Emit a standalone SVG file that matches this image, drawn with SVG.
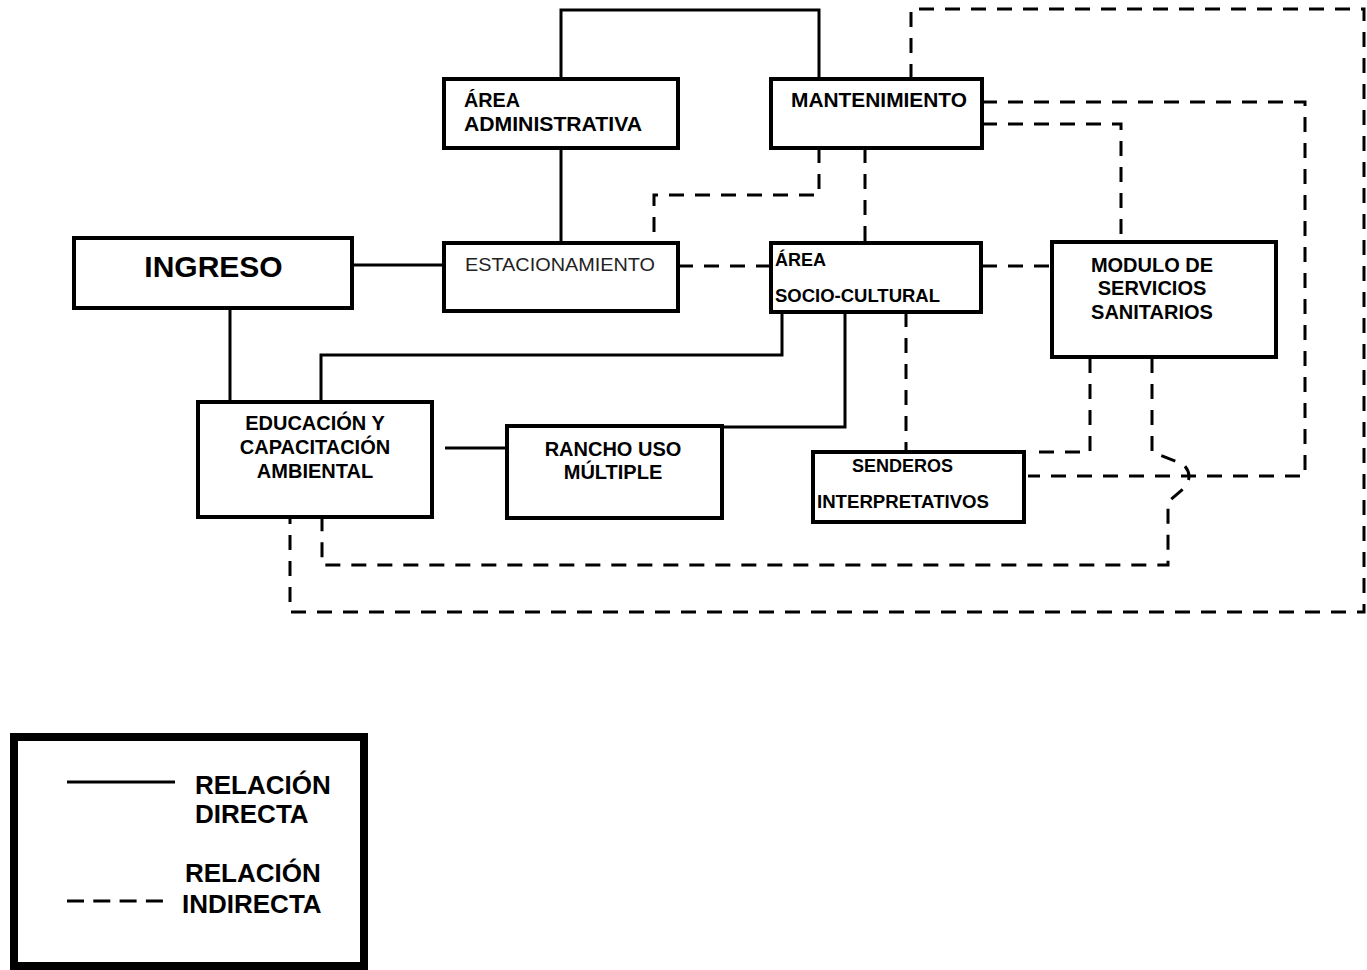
<svg xmlns="http://www.w3.org/2000/svg" width="1367" height="970" viewBox="0 0 1367 970">
<style>
.box{fill:#fff;stroke:#000;stroke-width:4}
.t{font-family:"Liberation Sans",Arial,sans-serif;font-weight:bold;fill:#000}
.s{fill:none;stroke:#000;stroke-width:3}
.d{fill:none;stroke:#000;stroke-width:3;stroke-dasharray:15 11}
</style>
<rect width="1367" height="970" fill="#fff"/>
<g id="connectors">
<path class="s" d="M561,79 V10 H819 V79"/>
<path class="s" d="M561,148 V242"/>
<path class="s" d="M353,265 H444"/>
<path class="s" d="M230,309 V402"/>
<path class="s" d="M782,312 V355 H321 V402"/>
<path class="s" d="M845,312 V427 H722"/>
<path class="s" d="M445,448 H507"/>
<path class="d" d="M911,79 V9 H1364 V612 H290 V518"/>
<path class="d" d="M982,102 H1305 V476 H1028"/>
<path class="d" d="M1152,358 V452 L1183,464 Q1195,476 1183,489 L1168,502 V565 H322 V518"/>
<path class="d" d="M982,124 H1121 V242"/>
<path class="d" d="M865,148 V242"/>
<path class="d" d="M819,148 V195 H654 V242"/>
<path class="d" d="M678,266 H771"/>
<path class="d" d="M982,266 H1052"/>
<path class="d" d="M906,312 V452"/>
<path class="d" d="M1090,358 V452 H1028"/>
</g>
<g id="admin">
<rect class="box" x="444" y="79" width="234" height="69"/>
<text class="t" x="464" y="107" font-size="20" textLength="56" lengthAdjust="spacingAndGlyphs">ÁREA</text>
<text class="t" x="464" y="131" font-size="20" textLength="178" lengthAdjust="spacingAndGlyphs">ADMINISTRATIVA</text>
</g>
<g id="mantenimiento">
<rect class="box" x="771" y="79" width="211" height="69"/>
<text class="t" x="791" y="107" font-size="20" textLength="176" lengthAdjust="spacingAndGlyphs">MANTENIMIENTO</text>
</g>
<g id="ingreso">
<rect class="box" x="74" y="238" width="278" height="70"/>
<text class="t" x="213.5" y="277" font-size="30" text-anchor="middle">INGRESO</text>
</g>
<g id="estacionamiento">
<rect class="box" x="444" y="243" width="234" height="68"/>
<text x="465" y="271" font-size="18" font-family="'Liberation Sans',Arial,sans-serif" fill="#222" textLength="190" lengthAdjust="spacingAndGlyphs">ESTACIONAMIENTO</text>
</g>
<g id="socio">
<rect class="box" x="771" y="243" width="210" height="69"/>
<text class="t" x="775" y="266" font-size="18">ÁREA</text>
<text class="t" x="775" y="302" font-size="18" textLength="165" lengthAdjust="spacingAndGlyphs">SOCIO-CULTURAL</text>
</g>
<g id="modulo">
<rect class="box" x="1052" y="242" width="224" height="115"/>
<text class="t" x="1152" y="272" font-size="20" text-anchor="middle">MODULO DE</text>
<text class="t" x="1152" y="295" font-size="20" text-anchor="middle">SERVICIOS</text>
<text class="t" x="1152" y="319" font-size="20" text-anchor="middle">SANITARIOS</text>
</g>
<g id="educacion">
<rect class="box" x="198" y="402" width="234" height="115"/>
<text class="t" x="315" y="430" font-size="20" text-anchor="middle">EDUCACIÓN Y</text>
<text class="t" x="315" y="454" font-size="20" text-anchor="middle">CAPACITACIÓN</text>
<text class="t" x="315" y="478" font-size="20" text-anchor="middle">AMBIENTAL</text>
</g>
<g id="rancho">
<rect class="box" x="507" y="426" width="215" height="92"/>
<text class="t" x="613" y="456" font-size="20" text-anchor="middle">RANCHO USO</text>
<text class="t" x="613" y="479" font-size="20" text-anchor="middle">MÚLTIPLE</text>
</g>
<g id="senderos">
<rect class="box" x="813" y="452" width="211" height="70"/>
<text class="t" x="852" y="472" font-size="18">SENDEROS</text>
<text class="t" x="817" y="508" font-size="18" textLength="172" lengthAdjust="spacingAndGlyphs">INTERPRETATIVOS</text>
</g>
<g id="legend">
<rect x="14" y="737" width="350" height="229" fill="#fff" stroke="#000" stroke-width="8"/>
<line x1="67" y1="782" x2="175" y2="782" stroke="#000" stroke-width="3"/>
<line x1="67" y1="901" x2="163" y2="901" stroke="#000" stroke-width="3" stroke-dasharray="17 9.3"/>
<text class="t" x="195" y="794" font-size="26">RELACIÓN</text>
<text class="t" x="195" y="823" font-size="26">DIRECTA</text>
<text class="t" x="185" y="882" font-size="26">RELACIÓN</text>
<text class="t" x="182" y="913" font-size="26">INDIRECTA</text>
</g>
</svg>
